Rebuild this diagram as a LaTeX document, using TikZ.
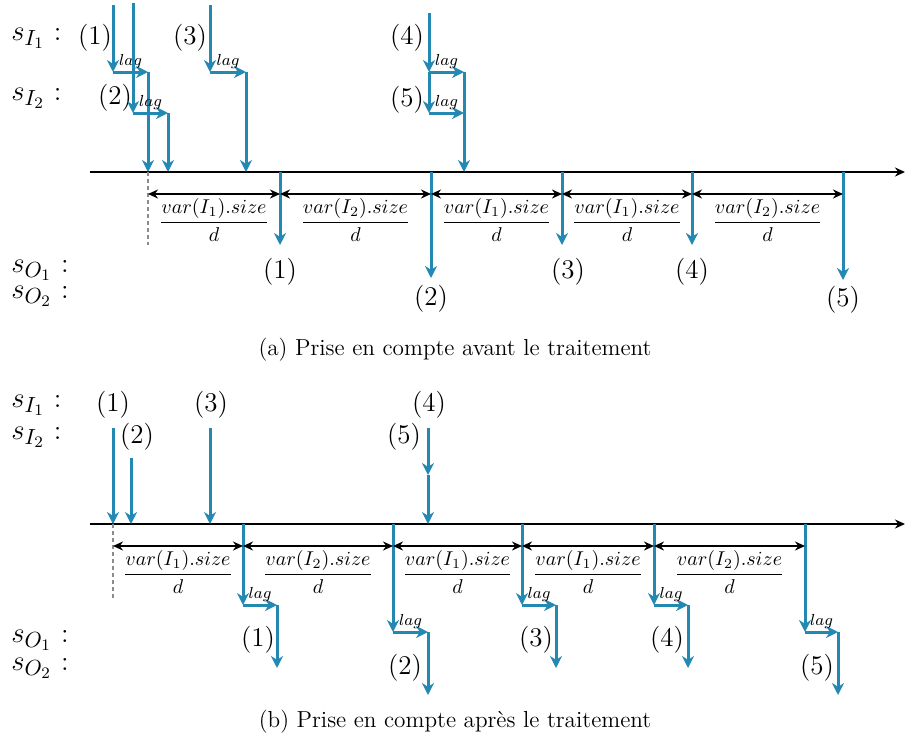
\documentclass[tikz,border=0pt]{standalone}
\usepackage{amsmath}
\usetikzlibrary{arrows.meta, calc}
\DeclareMathSizes{14}{14}{10.5}{8}
\definecolor{flowblue}{HTML}{2389B2}
\definecolor{guidegray}{HTML}{8C8C8C}
\tikzset{
  % one tuple travelling through a stream
  flow/.style={draw=flowblue, line width=1.5pt, -{Stealth[length=6pt, width=6pt]}},
  axis/.style={black, line width=1pt, -{Stealth[length=5pt, width=4.5pt]}},
  dim/.style={black, line width=0.9pt,
              {Stealth[length=5pt, width=4.5pt]}-{Stealth[length=5pt, width=4.5pt]}},
  guide/.style={guidegray, dash pattern={on 2pt off 1.5pt}, line width=0.8pt},
}

\begin{document}
\begin{tikzpicture}[
    x=0.5pt, y=-0.5pt,
    evt/.style={font=\fontsize{13.5}{15}\selectfont, inner sep=1pt},
    stream/.style={font=\fontsize{14}{16}\selectfont, anchor=west, inner sep=0pt},
    lagtxt/.style={font=\fontsize{8.5}{9}\selectfont, above, inner sep=1pt},
    frac/.style={below=1pt, font=\fontsize{10.4}{12}\selectfont, inner sep=1pt},
    capt/.style={font=\fontsize{11.6}{13}\selectfont},
]
\useasboundingbox (0,0) rectangle (905,744);

% ---------- (a) lag applied before processing
\node[stream] (sI1a) at (11,38)  {$s_{I_1}$~:};
\node[stream] (sI2a) at (11,98)  {$s_{I_2}$~:};
\node[stream] (sO1a) at (11,270) {$s_{O_1}$~:};
\node[stream] (sO2a) at (11,296) {$s_{O_2}$~:};

\coordinate (axa0) at (90,172);
\coordinate (axa1) at (905,172);
\draw[axis] (axa0) -- (axa1);

% arrivals on the inputs, each one shifted by lag
\node[evt] (ia1) at (95,38)  {(1)};
\node[evt] (ia2) at (115,98) {(2)};
\node[evt] (ia3) at (190,38) {(3)};
\node[evt] (ia4) at (407,38) {(4)};
\node[evt] (ia5) at (407,100) {(5)};

\foreach \n/\x/\xl/\yt/\yl in {1/113/148/5/72, 2/133/168/3/113, 3/210/246/5/72, 4/429/464/13/72}
{
  \coordinate (ain\n) at (\x,\yt);
  \coordinate (alg\n) at (\x,\yl);
  \coordinate (ash\n) at (\xl,\yl);
  \coordinate (aar\n) at (\xl,172);
  \draw[flow] (ain\n) -- (alg\n);
  \draw[flow] (alg\n) -- node[lagtxt] {$lag$} (ash\n);
  \draw[flow] (ash\n) -- (aar\n);
}
\coordinate (alg5) at (429,113);
\coordinate (ash5) at (464,113);
\draw[flow] (alg4) -- (alg5);
\draw[flow] (alg5) -- node[lagtxt] {$lag$} (ash5);

% outputs
\coordinate (ad0) at (148,172);
\coordinate (ag0) at (148,245);
\draw[guide] (ad0) -- (ag0);
\foreach \n/\x/\y in {1/280/245, 2/431/278, 3/562/245, 4/692/245, 5/843/280}
{
  \coordinate (ad\n) at (\x,172);
  \coordinate (ae\n) at (\x,\y);
  \draw[flow] (ad\n) -- (ae\n);
}
\foreach \a/\b/\k in {0/1/1, 1/2/2, 2/3/1, 3/4/1, 4/5/2}
  \draw[dim] ($(ad\a)+(0,22)$) -- node[frac] {$\dfrac{var(I_\k).size}{d}$} ($(ad\b)+(0,22)$);

\node[evt] (oa1) at (280,272) {(1)};
\node[evt] (oa2) at (431,299) {(2)};
\node[evt] (oa3) at (568,272) {(3)};
\node[evt] (oa4) at (692,272) {(4)};
\node[evt] (oa5) at (843,300) {(5)};

\node[capt] (capa) at (455,350) {(a) Prise en compte avant le traitement};

% ---------- (b) lag applied after processing
\node[stream] (sI1b) at (11,405) {$s_{I_1}$~:};
\node[stream] (sI2b) at (11,437) {$s_{I_2}$~:};
\node[stream] (sO1b) at (11,640) {$s_{O_1}$~:};
\node[stream] (sO2b) at (11,668) {$s_{O_2}$~:};

\coordinate (axb0) at (90,524);
\coordinate (axb1) at (905,524);
\draw[axis] (axb0) -- (axb1);

\node[evt] (ib1) at (113,405) {(1)};
\node[evt] (ib2) at (137,437) {(2)};
\node[evt] (ib3) at (211,405) {(3)};
\node[evt] (ib4) at (429,405) {(4)};
\node[evt] (ib5) at (404,437) {(5)};

\foreach \n/\x/\y in {1/113/428, 2/131/458, 3/210/428}
{
  \coordinate (bin\n) at (\x,\y);
  \coordinate (bar\n) at (\x,524);
  \draw[flow] (bin\n) -- (bar\n);
}
\coordinate (bin4) at (428,428);
\coordinate (bin5) at (428,475);
\coordinate (bar4) at (428,524);
\draw[flow] (bin4) -- (bin5);
\draw[flow] (bin5) -- (bar4);

% outputs, shifted by lag
\coordinate (bd0) at (113,524);
\coordinate (bg0) at (113,600);
\draw[guide] (bd0) -- (bg0);
\foreach \n/\x/\xl/\yl/\ye in {1/243/277/605/668, 2/393/428/632/695, 3/522/556/605/668, 4/654/688/605/668, 5/805/838/632/695}
{
  \coordinate (bd\n) at (\x,524);
  \coordinate (blg\n) at (\x,\yl);
  \coordinate (bsh\n) at (\xl,\yl);
  \coordinate (be\n) at (\xl,\ye);
  \draw[flow] (bd\n) -- (blg\n);
  \draw[flow] (blg\n) -- node[lagtxt] {$lag$} (bsh\n);
  \draw[flow] (bsh\n) -- (be\n);
}
\foreach \a/\b/\k in {0/1/1, 1/2/2, 2/3/1, 3/4/1, 4/5/2}
  \draw[dim] ($(bd\a)+(0,22)$) -- node[frac] {$\dfrac{var(I_\k).size}{d}$} ($(bd\b)+(0,22)$);

\node[evt] (ob1) at (258,640) {(1)};
\node[evt] (ob2) at (405,668) {(2)};
\node[evt] (ob3) at (536,640) {(3)};
\node[evt] (ob4) at (667,640) {(4)};
\node[evt] (ob5) at (817,668) {(5)};

\node[capt] (capb) at (455,722) {(b) Prise en compte apr\`es le traitement};

\end{tikzpicture}
\end{document}
